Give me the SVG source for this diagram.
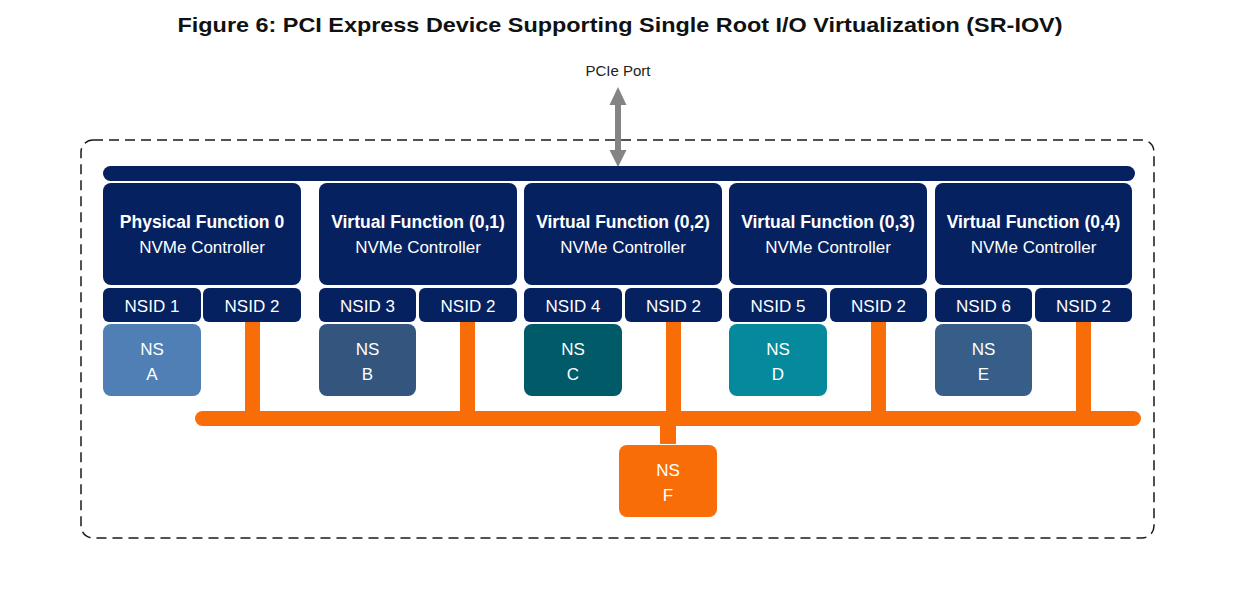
<svg xmlns="http://www.w3.org/2000/svg" width="1242" height="596" viewBox="0 0 1242 596">
<defs>
<style>
.navy{fill:#06215f;}
.t{font-family:"Liberation Sans",Arial,sans-serif;fill:#ffffff;text-anchor:middle;}
.h{font-size:17.5px;font-weight:bold;}
.s{font-size:17px;}
.orange{fill:#f96d08;}
</style>
</defs>
<rect width="1242" height="596" fill="#ffffff"/>
<text x="620" y="32" font-family="Liberation Sans,Arial,sans-serif" font-size="21" font-weight="bold" fill="#111" text-anchor="middle" textLength="885" lengthAdjust="spacingAndGlyphs">Figure 6: PCI Express Device Supporting Single Root I/O Virtualization (SR-IOV)</text>

<g id="device-boundary">
<rect x="81" y="140" width="1073" height="398" rx="12" fill="none" stroke="#1a1a1a" stroke-width="1.5" stroke-dasharray="10,6"/>
</g>

<g id="pcie-port">
<text x="618" y="76" font-family="Liberation Sans,Arial,sans-serif" font-size="15" fill="#222" text-anchor="middle">PCIe Port</text>
</g>

<g id="connectors">
<path d="M618,87 L626.5,105 L621,105 L621,150 L626.5,150 L618,167 L609.5,150 L615,150 L615,105 L609.5,105 Z" fill="#848484"/>
<g class="orange">
<rect x="195" y="411" width="946" height="15" rx="7.5"/>
<rect x="245" y="322" width="15" height="95"/>
<rect x="460" y="322" width="15" height="95"/>
<rect x="666" y="322" width="15" height="95"/>
<rect x="871" y="322" width="15" height="95"/>
<rect x="1076" y="322" width="15" height="95"/>
<rect x="660" y="420" width="16" height="24"/>
</g>
</g>

<g id="host-bus">
<rect class="navy" x="103" y="166" width="1032" height="15" rx="7.5"/>
</g>

<g id="pf0">
<rect class="navy" x="103" y="183" width="198" height="102" rx="8"/>
<text class="t h" x="202" y="228">Physical Function 0</text>
<text class="t s" x="202" y="253">NVMe Controller</text>
<rect class="navy" x="103" y="288" width="98" height="34" rx="6"/>
<text class="t s" x="152" y="312">NSID 1</text>
<rect class="navy" x="203" y="288" width="98" height="34" rx="6"/>
<text class="t s" x="252" y="312">NSID 2</text>
</g>

<g id="vf01">
<rect class="navy" x="319" y="183" width="198" height="102" rx="8"/>
<text class="t h" x="418" y="228">Virtual Function (0,1)</text>
<text class="t s" x="418" y="253">NVMe Controller</text>
<rect class="navy" x="319" y="288" width="97" height="34" rx="6"/>
<text class="t s" x="367.5" y="312">NSID 3</text>
<rect class="navy" x="419" y="288" width="98" height="34" rx="6"/>
<text class="t s" x="468" y="312">NSID 2</text>
</g>

<g id="vf02">
<rect class="navy" x="524" y="183" width="198" height="102" rx="8"/>
<text class="t h" x="623" y="228">Virtual Function (0,2)</text>
<text class="t s" x="623" y="253">NVMe Controller</text>
<rect class="navy" x="524" y="288" width="98" height="34" rx="6"/>
<text class="t s" x="573" y="312">NSID 4</text>
<rect class="navy" x="625" y="288" width="97" height="34" rx="6"/>
<text class="t s" x="673.5" y="312">NSID 2</text>
</g>

<g id="vf03">
<rect class="navy" x="729" y="183" width="198" height="102" rx="8"/>
<text class="t h" x="828" y="228">Virtual Function (0,3)</text>
<text class="t s" x="828" y="253">NVMe Controller</text>
<rect class="navy" x="729" y="288" width="98" height="34" rx="6"/>
<text class="t s" x="778" y="312">NSID 5</text>
<rect class="navy" x="830" y="288" width="97" height="34" rx="6"/>
<text class="t s" x="878.5" y="312">NSID 2</text>
</g>

<g id="vf04">
<rect class="navy" x="935" y="183" width="197" height="102" rx="8"/>
<text class="t h" x="1033.5" y="228">Virtual Function (0,4)</text>
<text class="t s" x="1033.5" y="253">NVMe Controller</text>
<rect class="navy" x="935" y="288" width="97" height="34" rx="6"/>
<text class="t s" x="983.5" y="312">NSID 6</text>
<rect class="navy" x="1035" y="288" width="97" height="34" rx="6"/>
<text class="t s" x="1083.5" y="312">NSID 2</text>
</g>

<g id="ns-a">
<rect x="103" y="324" width="98" height="72" rx="8" fill="#4f7fb5"/>
<text class="t s" x="152" y="355">NS</text>
<text class="t s" x="152" y="380">A</text>
</g>
<g id="ns-b">
<rect x="319" y="324" width="97" height="72" rx="8" fill="#34557d"/>
<text class="t s" x="367.5" y="355">NS</text>
<text class="t s" x="367.5" y="380">B</text>
</g>
<g id="ns-c">
<rect x="524" y="324" width="98" height="72" rx="8" fill="#015a67"/>
<text class="t s" x="573" y="355">NS</text>
<text class="t s" x="573" y="380">C</text>
</g>
<g id="ns-d">
<rect x="729" y="324" width="98" height="72" rx="8" fill="#058a9d"/>
<text class="t s" x="778" y="355">NS</text>
<text class="t s" x="778" y="380">D</text>
</g>
<g id="ns-e">
<rect x="935" y="324" width="97" height="72" rx="8" fill="#365e88"/>
<text class="t s" x="983.5" y="355">NS</text>
<text class="t s" x="983.5" y="380">E</text>
</g>
<g id="ns-f">
<rect x="619" y="445" width="98" height="72" rx="8" fill="#f96d08"/>
<text class="t s" x="668" y="476">NS</text>
<text class="t s" x="668" y="501">F</text>
</g>
</svg>
